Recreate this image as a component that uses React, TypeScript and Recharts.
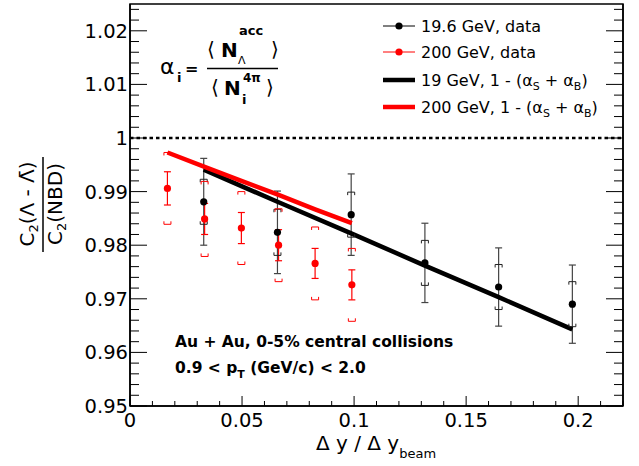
import {
  ComposedChart,
  Scatter,
  Line,
  XAxis,
  YAxis,
  ErrorBar,
  ReferenceLine,
  ReferenceArea,
} from "recharts"

// 19.6 GeV data
const blackX = [0.0329, 0.0658, 0.0987, 0.1316, 0.1645, 0.1974]
const blackY = [0.9881, 0.9824, 0.9857, 0.9767, 0.9722, 0.969]
const blackStat = [0.0081, 0.0077, 0.0076, 0.0074, 0.0073, 0.0073]
const blackSys = [0.0042, 0.0043, 0.0042, 0.0042, 0.0042, 0.0042]

// 200 GeV data
const redX = [0.0167, 0.0333, 0.0497, 0.0663, 0.0826, 0.099]
const redY = [0.9906, 0.9849, 0.9832, 0.98, 0.9766, 0.9726]
const redStat = [0.0031, 0.0029, 0.0029, 0.0029, 0.0028, 0.0028]
const redSys = [0.0067, 0.007, 0.0068, 0.0068, 0.0068, 0.0068]

// 1 - (alpha_S + alpha_B) baselines
const model19Y = [0.9941, 0.9881, 0.9822, 0.9762, 0.9703, 0.9643]
const model200Y = [0.9973, 0.9946, 0.992, 0.9894, 0.9867, 0.9841]

const xMajor = [0, 0.05, 0.1, 0.15, 0.2]
const yMajor = [0.95, 0.96, 0.97, 0.98, 0.99, 1, 1.01, 1.02]
const xTicks = Array.from({ length: 23 }, (_, i) => Number((i * 0.01).toFixed(2)))
const yTicks = Array.from({ length: 38 }, (_, i) => Number((0.95 + i * 0.002).toFixed(3)))

const FONT = "DejaVu Sans"

const pts = (xs: number[], ys: number[], extra?: number[]) =>
  xs.map((x, i) => ({ x, y: ys[i], e: extra ? extra[i] : 0 }))

const blackData = pts(blackX, blackY, blackStat)
const redData = pts(redX, redY, redStat)
const blackSysHi = pts(blackX, blackY.map((y, i) => y + blackSys[i]))
const blackSysLo = pts(blackX, blackY.map((y, i) => y - blackSys[i]))
const redSysHi = pts(redX, redY.map((y, i) => y + redSys[i]))
const redSysLo = pts(redX, redY.map((y, i) => y - redSys[i]))
const model19 = pts(blackX, model19Y)
const model200 = pts(redX, model200Y)

const isMajor = (v: number, list: number[]) => list.some(m => Math.abs(m - v) < 1e-9)
const fmt = (v: number) => String(Number(v.toFixed(2)))

function LeftTick({ x, y, payload }: any) {
  const major = isMajor(payload.value, yMajor)
  return (
    <g>
      <line x1={x} x2={x + (major ? 17 : 9)} y1={y} y2={y} stroke="#000" strokeWidth={1} />
      {major && (
        <text x={x - 2} y={y + 7} textAnchor="end" fontSize={19.5} fontFamily={FONT} fill="#000">
          {fmt(payload.value)}
        </text>
      )}
    </g>
  )
}

function RightTick({ x, y, payload }: any) {
  const major = isMajor(payload.value, yMajor)
  return <line x1={x} x2={x - (major ? 17 : 9)} y1={y} y2={y} stroke="#000" strokeWidth={1} />
}

function BottomTick({ x, y, payload }: any) {
  const major = isMajor(payload.value, xMajor)
  return (
    <g>
      <line x1={x} x2={x} y1={y} y2={y - (major ? 10 : 5)} stroke="#000" strokeWidth={1} />
      {major && (
        <text x={x} y={y + 21} textAnchor="middle" fontSize={19.5} fontFamily={FONT} fill="#000">
          {fmt(payload.value)}
        </text>
      )}
    </g>
  )
}

const bracket = (color: string, up: boolean) => (p: any) => {
  const d = up ? 3 : -3
  return (
    <path
      d={`M${p.cx - 3.5},${p.cy + d} V${p.cy} H${p.cx + 3.5} V${p.cy + d}`}
      stroke={color}
      strokeWidth={1}
      fill="none"
    />
  )
}

const dot = (color: string) => (p: any) => <circle cx={p.cx} cy={p.cy} r={3.6} fill={color} />

function Overlay() {
  return (
    <svg
      width={639}
      height={466}
      style={{ position: "absolute", left: 0, top: 0, pointerEvents: "none" }}
      fontFamily={FONT}
    >
      {/* alpha_i formula */}
      <text x={160} y={74} fontSize={22}>α</text>
      <text x={177} y={82} fontSize={13} fontWeight="bold">i</text>
      <text x={185} y={74} fontSize={16} fontWeight="bold">=</text>
      <line x1={207} x2={278} y1={68.5} y2={68.5} stroke="#000" strokeWidth={1.5} />
      <text x={207} y={56} fontSize={20}>⟨</text>
      <text x={221} y={57} fontSize={20} fontWeight="bold">N</text>
      <text x={239} y={35} fontSize={13} fontWeight="bold">acc</text>
      <text x={238} y={64} fontSize={11}>Λ</text>
      <text x={271} y={56} fontSize={20}>⟩</text>
      <text x={211} y={94} fontSize={20}>⟨</text>
      <text x={224} y={95} fontSize={20} fontWeight="bold">N</text>
      <text x={243} y={82} fontSize={12} fontWeight="bold">4π</text>
      <text x={242} y={104} fontSize={13} fontWeight="bold">i</text>
      <text x={266} y={94} fontSize={20}>⟩</text>

      {/* legend */}
      <line x1={383} x2={415} y1={26} y2={26} stroke="#000" strokeWidth={1} />
      <circle cx={399} cy={26} r={3.6} fill="#000" />
      <text x={421} y={32} fontSize={16}>19.6 GeV, data</text>
      <line x1={383} x2={415} y1={52} y2={52} stroke="#f00" strokeWidth={1} />
      <circle cx={399} cy={52} r={3.6} fill="#f00" />
      <text x={421} y={58} fontSize={16}>200 GeV, data</text>
      <line x1={383} x2={415} y1={80} y2={80} stroke="#000" strokeWidth={4.5} />
      <text x={421} y={86} fontSize={16}>
        19 GeV, 1 - (α<tspan fontSize={11} dy={4}>S</tspan>
        <tspan dy={-4}> + α</tspan>
        <tspan fontSize={11} dy={4}>B</tspan>
        <tspan dy={-4}>)</tspan>
      </text>
      <line x1={383} x2={415} y1={107} y2={107} stroke="#f00" strokeWidth={4.5} />
      <text x={421} y={113} fontSize={16}>
        200 GeV, 1 - (α<tspan fontSize={11} dy={4}>S</tspan>
        <tspan dy={-4}> + α</tspan>
        <tspan fontSize={11} dy={4}>B</tspan>
        <tspan dy={-4}>)</tspan>
      </text>

      {/* collision info */}
      <text x={175} y={347} fontSize={15.5} fontWeight="bold">Au + Au, 0-5% central collisions</text>
      <text x={175} y={373} fontSize={15.5} fontWeight="bold">
        0.9 &lt; p<tspan fontSize={11} dy={5}>T</tspan>
        <tspan dy={-5}> (GeV/c) &lt; 2.0</tspan>
      </text>

      {/* axis titles */}
      <text x={316} y={450} fontSize={20}>
        Δ y / Δ y<tspan fontSize={13} dy={8}>beam</tspan>
      </text>
      <g transform="rotate(-90)">
        <text x={-204} y={34} fontSize={20} textAnchor="middle">
          C<tspan fontSize={13} dy={4}>2</tspan>
          <tspan dy={-4}>(Λ - Λ̄)</tspan>
        </text>
        <text x={-204} y={62} fontSize={20} textAnchor="middle">
          C<tspan fontSize={13} dy={4}>2</tspan>
          <tspan dy={-4}>(NBD)</tspan>
        </text>
      </g>
      <line x1={43} x2={43} y1={157} y2={252} stroke="#000" strokeWidth={1.5} />
    </svg>
  )
}

export default function App() {
  return (
    <div style={{ position: "absolute", left: 0, top: 0, width: 639, height: 466, background: "#fff" }}>
      <ComposedChart
        width={639}
        height={466}
        margin={{ top: 4, right: 0, bottom: 0, left: 0 }}
        style={{ fontFamily: FONT }}
      >
        <XAxis
          type="number"
          dataKey="x"
          domain={[0, 0.22]}
          ticks={xTicks}
          interval={0}
          tickSize={0}
          tickMargin={0}
          tickLine={false}
          tick={<BottomTick />}
          axisLine={{ stroke: "#000", strokeWidth: 1.5 }}
          height={60}
          allowDataOverflow
        />
        <YAxis
          type="number"
          dataKey="y"
          domain={[0.95, 1.025]}
          ticks={yTicks}
          interval={0}
          tickSize={0}
          tickMargin={0}
          tickLine={false}
          tick={<LeftTick />}
          axisLine={{ stroke: "#000", strokeWidth: 1.5 }}
          width={130}
          allowDataOverflow
        />
        <YAxis
          yAxisId="right"
          orientation="right"
          type="number"
          domain={[0.95, 1.025]}
          ticks={yTicks}
          interval={0}
          tickSize={0}
          tickMargin={0}
          tickLine={false}
          tick={<RightTick />}
          axisLine={{ stroke: "#000", strokeWidth: 1.5 }}
          width={16}
          allowDataOverflow
        />
        <ReferenceArea x1={0} x2={0.22} y1={0.95} y2={1.025} fill="none" stroke="#000" strokeWidth={1.5} />
        <ReferenceLine y={1} stroke="#000" strokeWidth={2.5} strokeDasharray="3.5 3" />

        <Scatter data={blackData} shape={dot("#000")} isAnimationActive={false}>
          <ErrorBar dataKey="e" direction="y" width={3.5} stroke="#444" strokeWidth={1.2} isAnimationActive={false} />
        </Scatter>
        <Scatter data={blackSysHi} shape={bracket("#222", true)} isAnimationActive={false} />
        <Scatter data={blackSysLo} shape={bracket("#222", false)} isAnimationActive={false} />

        <Scatter data={redData} shape={dot("#f00")} isAnimationActive={false}>
          <ErrorBar dataKey="e" direction="y" width={3.5} stroke="#f00" strokeWidth={1.2} isAnimationActive={false} />
        </Scatter>
        <Scatter data={redSysHi} shape={bracket("#f00", true)} isAnimationActive={false} />
        <Scatter data={redSysLo} shape={bracket("#f00", false)} isAnimationActive={false} />

        <Line data={model19} dataKey="y" stroke="#000" strokeWidth={4.5} dot={false} isAnimationActive={false} />
        <Line data={model200} dataKey="y" stroke="#f00" strokeWidth={4.5} dot={false} isAnimationActive={false} />
      </ComposedChart>
      <Overlay />
    </div>
  )
}
